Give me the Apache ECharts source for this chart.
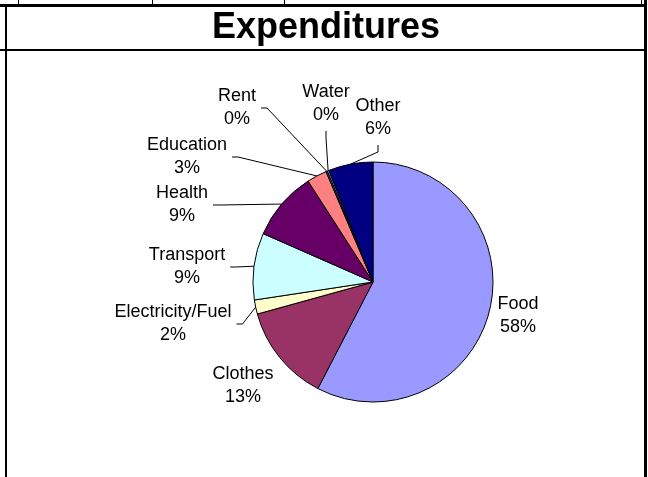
<!DOCTYPE html>
<html>
<head>
<meta charset="utf-8">
<script src="https://cdn.jsdelivr.net/npm/echarts@6/dist/echarts.min.js"></script>
<style>
  html, body { margin: 0; padding: 0; background: #fff; }
  #chart { width: 648px; height: 477px; }
</style>
</head>
<body>
<div id="chart"></div>
<script>
// ---- data ----
const titleText = 'Expenditures';
const categories = ['Food', 'Clothes', 'Electricity/Fuel', 'Transport', 'Health', 'Education', 'Rent', 'Water', 'Other'];
const shares = [57.6, 13.1, 1.9, 9.0, 9.3, 2.7, 0.2, 0.2, 6.0];

// ---- styling / layout (kept apart from the data) ----
const sliceColors = ['#9999FF', '#993366', '#FFFFCC', '#CCFFFF', '#660066', '#FF8080', '#0066CC', '#CCCCFF', '#000080'];
const labelCenters = [[518, 316], [243, 386], [173, 324], [187, 267], [182, 205], [187, 157], [237, 108], [326, 104], [378, 118]];
const leaderSide = ['', '', 'right', 'right', 'right', 'right', 'right', 'bottom', 'bottom'];

const chart = echarts.init(document.getElementById('chart'), null, { renderer: 'canvas' });

const pieData = categories.map((name, i) => ({
  name: name,
  value: shares[i],
  itemStyle: { color: sliceColors[i] },
  labelLine: { show: leaderSide[i] !== '' }
}));

function rectEl(x, y, w, h) {
  return { type: 'rect', shape: { x: x, y: y, width: w, height: h }, style: { fill: '#000' }, silent: true };
}

const option = {
  backgroundColor: '#ffffff',
  animation: false,
  graphic: [
    rectEl(0, 4, 646, 3),
    rectEl(18, 0, 1, 4),
    rectEl(152, 0, 1, 4),
    rectEl(284, 0, 1, 4),
    rectEl(641, 0, 1, 4),
    rectEl(5, 4, 2, 473),
    rectEl(0, 49, 645, 2),
    rectEl(644, 0, 3, 477),
    {
      type: 'text', x: 326, y: 28, silent: true,
      style: {
        text: titleText, fill: '#000', align: 'center', verticalAlign: 'middle',
        font: 'bold 36px Arial, "Liberation Sans", sans-serif'
      }
    }
  ],
  series: [{
    type: 'pie',
    center: [373, 282],
    radius: [0, 120],
    startAngle: 90,
    clockwise: true,
    avoidLabelOverlap: false,
    emphasis: { disabled: true },
    itemStyle: { borderColor: '#000', borderWidth: 1 },
    label: {
      show: true,
      position: 'outside',
      color: '#000',
      fontFamily: 'Arial, "Liberation Sans", sans-serif',
      fontSize: 18,
      lineHeight: 23,
      formatter: p => p.name + '\n' + Math.round(p.percent) + '%'
    },
    labelLine: {
      show: true, length: 8, length2: 8, smooth: false,
      lineStyle: { color: '#000', width: 1 }
    },
    labelLayout: function (params) {
      const i = params.dataIndex;
      const c = labelCenters[i];
      const out = { x: c[0], y: c[1], align: 'center', verticalAlign: 'middle' };
      const side = leaderSide[i];
      const pts = params.labelLinePoints;
      if (side && pts && pts.length) {
        const w = params.labelRect.width;
        const h = params.labelRect.height;
        const edge = pts[0];
        if (side === 'right') {
          const ex = c[0] + w / 2 + 5;
          out.labelLinePoints = [edge, [ex + 6, c[1]], [ex, c[1]]];
        } else {
          const ey = c[1] + h / 2 + 4;
          out.labelLinePoints = [edge, [c[0], ey + 7], [c[0], ey]];
        }
      }
      return out;
    },
    data: pieData
  }]
};

chart.setOption(option);
</script>
</body>
</html>
